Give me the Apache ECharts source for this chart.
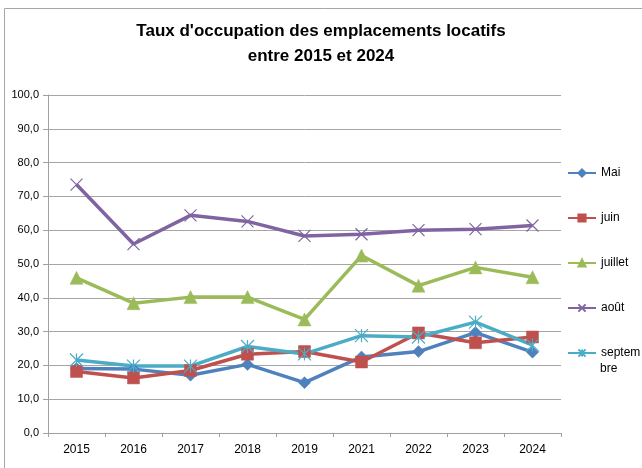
<!DOCTYPE html>
<html><head><meta charset="utf-8">
<script src="https://cdn.jsdelivr.net/npm/echarts@6/dist/echarts.min.js"></script>
<style>html,body{margin:0;padding:0;background:#fff}#c{width:642px;height:468px}</style>
</head><body><div id="c"></div>
<script>
var years = ['2015','2016','2017','2018','2019','2021','2022','2023','2024'];
var mai = [19.1, 18.9, 17.1, 20.3, 14.9, 22.5, 24.1, 29.7, 23.9];
var juin = [18.2, 16.3, 18.5, 23.3, 24.1, 21.0, 29.6, 26.7, 28.4];
var juillet = [45.9, 38.4, 40.2, 40.2, 33.6, 52.5, 43.6, 49.0, 46.1];
var aout = [73.5, 55.9, 64.4, 62.6, 58.3, 58.8, 60.0, 60.3, 61.4];
var septembre = [21.6, 19.8, 19.8, 25.6, 23.4, 28.8, 28.4, 32.8, 26.0];
var yTicks = [0, 10, 20, 30, 40, 50, 60, 70, 80, 90, 100];

var FONT = 'Liberation Sans';
var xPath = 'path://M0,0L10,10M10,0L0,10';
var starPath = 'path://M0,0L10,10M10,0L0,10M5,0L5,10';

function s(name, data, color, symbol, size, stroke) {
  return {
    name: name, type: 'line', data: data,
    symbol: symbol, symbolSize: size,
    lineStyle: {color: color, width: 3.5},
    itemStyle: stroke ? {color: color, borderColor: color, borderWidth: 1.2} : {color: color, borderColor: color, borderWidth: 0.5},
    z: 2
  };
}

var chart = echarts.init(document.getElementById('c'), null, {renderer: 'canvas'});
chart.setOption({
  animation: false,
  backgroundColor: '#fff',
  title: {
    text: "Taux d'occupation des emplacements locatifs\nentre 2015 et 2024",
    left: 316, top: 14, textAlign: 'center',
    textStyle: {fontFamily: FONT, fontWeight: 'bold', fontSize: 17, lineHeight: 25, color: '#000'}
  },
  graphic: [{
    type: 'polyline', shape: {points: [[4.5, 470], [4.5, 8.5], [650, 8.5]]},
    style: {stroke: '#a6a6a6', lineWidth: 1, fill: null}, silent: true
  }, {
    type: 'text', left: 600, top: 363, silent: true,
    style: {text: 'bre', fontFamily: FONT, fontSize: 12, fill: '#000'}
  }],
  legend: {
    orient: 'vertical', left: 562, top: 162,
    itemWidth: 28, itemHeight: 9, itemGap: 33,
    textStyle: {fontFamily: FONT, fontSize: 12, color: '#000'},
    formatter: function (n) { return n === 'septembre' ? 'septem' : n; },
    data: ['Mai', 'juin', 'juillet', 'août', 'septembre']
  },
  grid: {left: 48, right: 81, top: 95, bottom: 35, containLabel: false},
  xAxis: {
    type: 'category', data: years, boundaryGap: true,
    axisLine: {lineStyle: {color: '#a0a0a0', width: 1}},
    axisTick: {show: true, length: 4, lineStyle: {color: '#a0a0a0'}},
    axisLabel: {fontFamily: FONT, fontSize: 12, color: '#000', margin: 11}
  },
  yAxis: {
    type: 'value', min: yTicks[0], max: yTicks[yTicks.length - 1], interval: 10,
    axisLine: {show: true, lineStyle: {color: '#a0a0a0', width: 1}},
    axisTick: {show: true, length: 5, lineStyle: {color: '#a0a0a0'}},
    splitLine: {lineStyle: {color: '#a6a6a6', width: 1}},
    axisLabel: {fontFamily: FONT, fontSize: 11, color: '#000', margin: 9,
      formatter: function (v) { return v.toFixed(1).replace('.', ','); }}
  },
  series: [
    s('Mai', mai, '#4F81BD', 'diamond', 12, false),
    s('juin', juin, '#C0504D', 'rect', 12, false),
    s('juillet', juillet, '#9BBB59', 'triangle', 13, false),
    s('août', aout, '#8064A2', xPath, 12, true),
    s('septembre', septembre, '#4BACC6', starPath, 13, true)
  ]
});
</script></body></html>
